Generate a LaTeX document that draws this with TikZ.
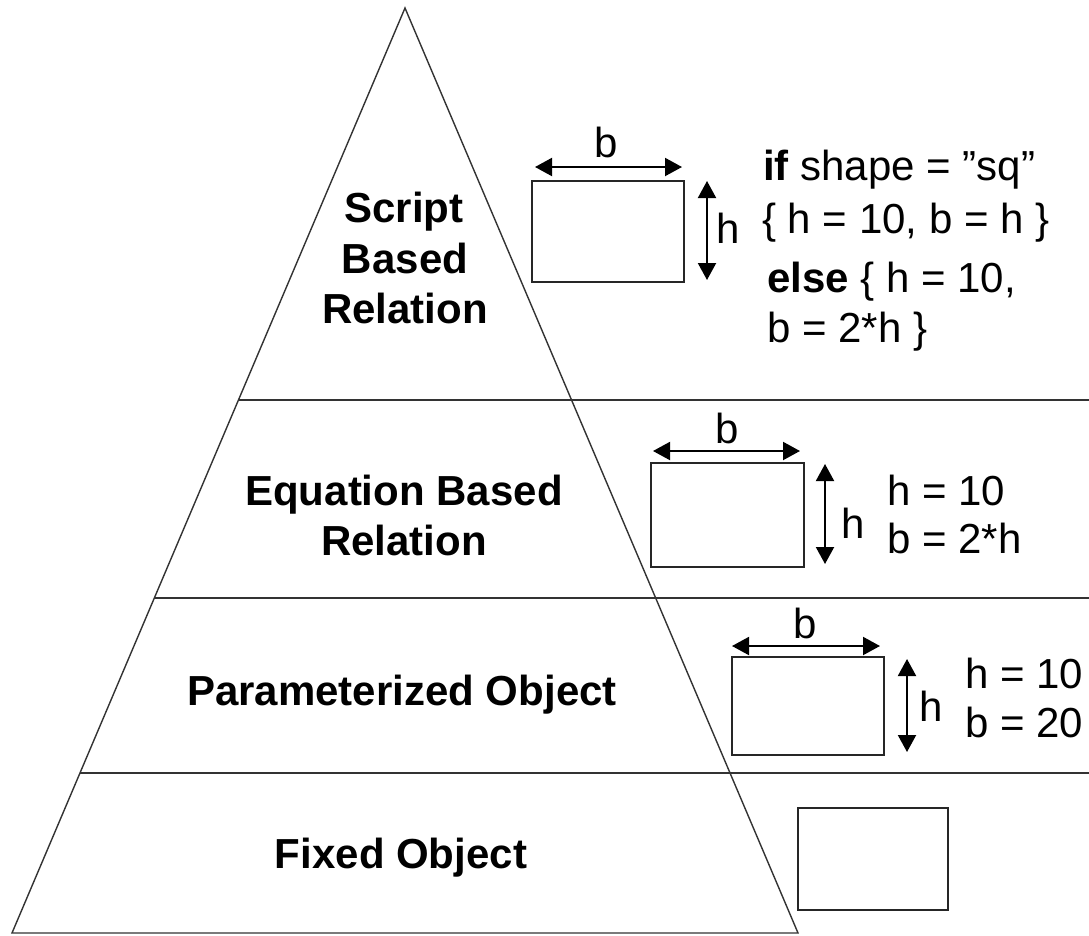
\documentclass[tikz,border=0pt]{standalone}
\usepackage{fontspec}
\setmainfont{Liberation Sans}
\usetikzlibrary{arrows.meta}
\begin{document}
\begin{tikzpicture}[x=1pt,y=-1pt,
  layerline/.style={draw=black!80,line width=1.4pt},
  objbox/.style={draw=black!85,line width=2pt,inner sep=0pt,minimum width=#1,minimum height=102pt,anchor=north west},
  dimarrow/.style={line width=2pt,{Triangle[length=17pt,width=18pt]}-{Triangle[length=17pt,width=18pt]}},
  lbl/.style={inner sep=0pt,font=\fontsize{42}{50}\selectfont\bfseries,anchor=base},
  txt/.style={inner sep=0pt,font=\fontsize{42}{50}\selectfont,anchor=base west},
  dimtxt/.style={inner sep=0pt,font=\fontsize{42}{50}\selectfont,anchor=base}]
\useasboundingbox[fill=white] (0,0) rectangle (1089,935);
% pyramid
\coordinate (apex) at (405,8);
\coordinate (bl) at (12,933);
\coordinate (br) at (798,933);
\draw[layerline,line join=miter] (bl) -- (apex) -- (br) -- cycle;
\coordinate (l1) at (238.5,400); \coordinate (r1) at (1089,400);
\coordinate (l2) at (154.3,598); \coordinate (r2) at (1089,598);
\coordinate (l3) at (80,773);    \coordinate (r3) at (1089,773);
\draw[layerline] (l1) -- (r1);
\draw[layerline] (l2) -- (r2);
\draw[layerline] (l3) -- (r3);
% layer labels
\node[lbl] (s1) at (404,222) {Script};
\node[lbl] (s2) at (405,273) {Based};
\node[lbl] (s3) at (405,323) {Relation};
\node[lbl] (e1) at (404,505) {Equation Based};
\node[lbl] (e2) at (404,555) {Relation};
\node[lbl] (p1) at (402,705) {Parameterized Object};
\node[lbl] (f1) at (401,868) {Fixed Object};
% script level
\node[objbox=152pt,minimum height=101pt] (box1) at (531,180) {};
\coordinate (b1a) at (535,167); \coordinate (b1b) at (682,167);
\draw[dimarrow] (b1a) -- (b1b);
\node[dimtxt] (b1) at (606,157) {b};
\coordinate (h1a) at (707,181); \coordinate (h1b) at (707,280);
\draw[dimarrow] (h1a) -- (h1b);
\node[dimtxt] (h1) at (728,243) {h};
\node[txt] (t1) at (763,180) {\textbf{if} shape = ”sq”};
\node[txt] (t2) at (762,233) {\{ h = 10, b = h \}};
\node[txt] (t3) at (767,292) {\textbf{else} \{ h = 10,};
\node[txt] (t4) at (767,342) {b = 2*h \}};
% equation level
\node[objbox=153pt,minimum height=104pt] (box2) at (650,462) {};
\coordinate (b2a) at (653,451); \coordinate (b2b) at (800,451);
\draw[dimarrow] (b2a) -- (b2b);
\node[dimtxt] (b2) at (727,443) {b};
\coordinate (h2a) at (825,464); \coordinate (h2b) at (825,564);
\draw[dimarrow] (h2a) -- (h2b);
\node[dimtxt] (h2) at (853,538) {h};
\node[txt] (u1) at (887,505) {h = 10};
\node[txt] (u2) at (887,553) {b = 2*h};
% parameterized level
\node[objbox=152pt,minimum height=98pt] (box3) at (731,656) {};
\coordinate (b3a) at (732,646); \coordinate (b3b) at (880,646);
\draw[dimarrow] (b3a) -- (b3b);
\node[dimtxt] (b3) at (805,638) {b};
\coordinate (h3a) at (907,659); \coordinate (h3b) at (907,752);
\draw[dimarrow] (h3a) -- (h3b);
\node[dimtxt] (h3) at (931,721) {h};
\node[txt] (v1) at (965,688) {h = 10};
\node[txt] (v2) at (965,737) {b = 20};
% fixed level
\node[objbox=150pt,minimum height=102pt] (box4) at (797,807) {};
\end{tikzpicture}
\end{document}
